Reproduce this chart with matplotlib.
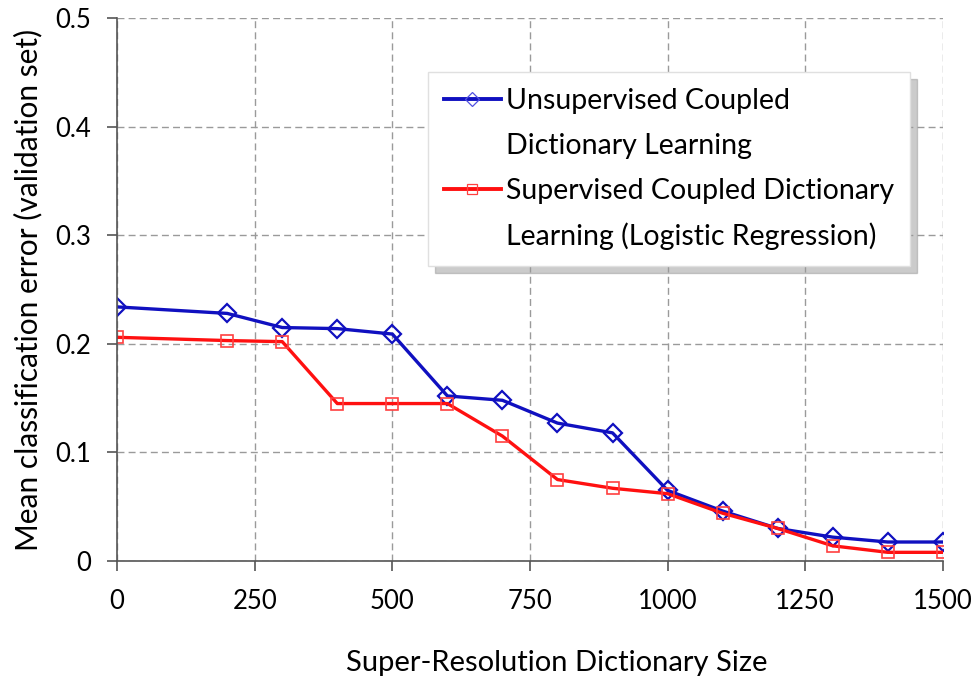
import matplotlib.pyplot as plt
from matplotlib.lines import Line2D

# dictionary sizes
sizes = [0, 200, 300, 400, 500, 600, 700, 800, 900, 1000, 1100, 1200, 1300, 1400, 1500]

# mean classification error
unsup = [0.234, 0.228, 0.215, 0.214, 0.209, 0.152, 0.148, 0.127, 0.118, 0.065,
         0.046, 0.030, 0.022, 0.0175, 0.0175]
sup = [0.206, 0.203, 0.202, 0.145, 0.145, 0.145, 0.115, 0.075, 0.067, 0.062,
       0.044, 0.030, 0.014, 0.008, 0.008]

xticks = [0, 250, 500, 750, 1000, 1250, 1500]
yticks = [0, 0.1, 0.2, 0.3, 0.4, 0.5]
ylabels = ['0', '0.1', '0.2', '0.3', '0.4', '0.5']

blue = '#1010c0'
red = '#ff1010'

plt.rcParams['font.family'] = ['Lato', 'DejaVu Sans']

fig = plt.figure(figsize=(9.76, 6.83), dpi=100)
ax = fig.add_axes([0.12, 0.1786, 0.846, 0.795])

ax.plot(sizes, unsup, color=blue, lw=2.4, marker='D', markersize=9,
        mfc='none', mec=blue, mew=1.6)
ax.plot(sizes, sup, color=red, lw=2.4, marker='s', markersize=9,
        mfc='none', mec='#ff4040', mew=1.2)

ax.set_xlim(0, 1500)
ax.set_ylim(0, 0.5)
ax.set_xticks(xticks)
ax.set_yticks(yticks)
ax.set_yticklabels(ylabels)
ax.tick_params(labelsize=18.5, length=7, width=1.2, color='#555555')
ax.tick_params(axis='x', pad=13)
ax.tick_params(axis='y', pad=12)
ax.grid(True, ls=(0, (5, 3)), color='#9a9a9a', lw=1)
ax.set_axisbelow(True)
for s in ['top', 'right']:
    ax.spines[s].set_visible(False)
for s in ['left', 'bottom']:
    ax.spines[s].set_color('#555555')
    ax.spines[s].set_linewidth(1.2)

ax.set_xlabel('Super-Resolution Dictionary Size', fontsize=21)
ax.set_ylabel('Mean classification error (validation set)', fontsize=21.5)
ax.xaxis.set_label_coords(0.533, -0.163)
ax.yaxis.set_label_coords(-0.09, 0.50)

# legend: handle sits on the first line of each two-line label
handles = [
    Line2D([], [], color=blue, lw=2.8, marker='D', markersize=7, mfc='none', mec='#5050e0', mew=0.9),
    Line2D([], [], alpha=0),
    Line2D([], [], color=red, lw=2.8, marker='s', markersize=7, mfc='none', mec='#ff4040', mew=0.9),
    Line2D([], [], alpha=0),
]
labels = ['Unsupervised Coupled', 'Dictionary Learning',
          'Supervised Coupled Dictionary', 'Learning (Logistic Regression)']
leg = ax.legend(handles, labels, loc='upper left', bbox_to_anchor=(0.3765, 0.90),
                fontsize=20.5, frameon=True, fancybox=False,
                shadow={'ox': 5, 'oy': -5, 'color': '#999999'},
                labelspacing=0.66, handlelength=2.0, handletextpad=0.2,
                borderpad=0.55, borderaxespad=0, framealpha=1)
leg.get_frame().set_edgecolor('#e0e0e0')
leg.get_frame().set_linewidth(1)

fig.savefig('out.png', dpi=100)
